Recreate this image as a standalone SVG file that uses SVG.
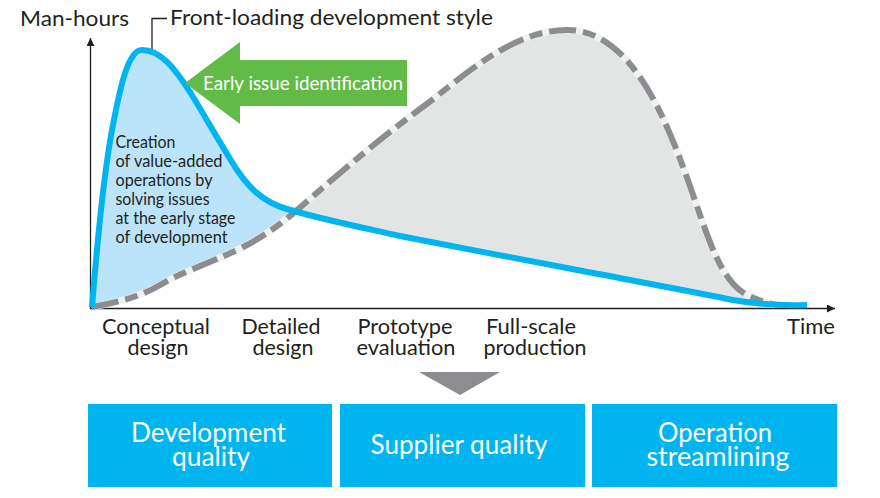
<svg xmlns="http://www.w3.org/2000/svg" width="880" height="498" viewBox="0 0 880 498">
<style>
text{font-family:"Lato","Noto Sans","Liberation Sans",sans-serif;fill:#231f20}
.l{font-size:22px;text-anchor:middle}
.s{font-size:16.500px}
.b{font-size:26px;text-anchor:middle;fill:#fff}
.box{fill:#00b5ef}
</style>
<defs>
<marker id="ah" markerUnits="userSpaceOnUse" markerWidth="10" markerHeight="10" refX="8" refY="4" orient="auto"><path d="M0 0L8 4L0 8z" fill="#231f20"/></marker>
</defs>
<rect width="880" height="498" fill="#fff"/>
<g id="areas">
<path d="M92 307C97 245 103 175 113 125C120 88 128 50 142 50C160 50 174 67 190 92C205 116 218 140 237 170C248 186 262 202 287 209L303 205C280 225 262 238 237 250C205 265 180 273 160 285C140 297 115 303 92 307Z" fill="#bbe3f9"/>
<path d="M287 209L303 205C345 168 385 135 420 109C460 80 510 30 567 30C620 30 655 90 683 167C700 212 712 258 730 280C738 291 748 298 768 304C700 290 640 282 567 268C510 257 460 248 400 236C360 227 320 218 287 209Z" fill="#e3e5e5"/>
</g>
<g id="connectors" fill="none">
<path d="M90.500 309V38" stroke="#231f20" stroke-width="1.300" marker-end="url(#ah)"/>
<path d="M90 308.500H835" stroke="#231f20" stroke-width="1.300" marker-end="url(#ah)"/>
<path d="M152 52V18.500H167" stroke="#231f20" stroke-width="1.300"/>
<path id="grayhalo" d="M92 307C115 303 140 297 160 285C180 273 205 265 237 250C262 238 280 225 303 205C345 168 385 135 420 109C460 80 510 30 567 30C620 30 655 90 683 167C700 212 712 258 730 280C738 291 748 298 775 305" stroke="#f0f1f1" stroke-width="7"/>
<path id="gray" d="M92 307C115 303 140 297 160 285C180 273 205 265 237 250C262 238 280 225 303 205C345 168 385 135 420 109C460 80 510 30 567 30C620 30 655 90 683 167C700 212 712 258 730 280C738 291 748 298 775 305" stroke="#8c8d90" stroke-width="6" stroke-dasharray="27 7 13 7"/>
<path id="blue" d="M92 307C97 245 103 175 113 125C120 88 128 50 142 50C160 50 174 67 190 92C205 116 218 140 237 170C248 186 262 202 287 209C320 219 360 227 400 236C460 248 510 257 567 268C640 282 700 293 733 300C755 304 775 306 807 305" stroke="#00b5ef" stroke-width="6"/>
</g>
<g id="green-arrow">
<path d="M185 83L240 42V60H407V106H240V124Z" fill="#62bb46"/>
<text x="203" y="90" style="font-size:19px;fill:#fff" textLength="200" lengthAdjust="spacingAndGlyphs">Early issue identification</text>
</g>
<g id="axis-labels">
<text x="20" y="26" style="font-size:22px" textLength="109" lengthAdjust="spacingAndGlyphs">Man-hours</text>
<text x="170" y="25" style="font-size:22px" textLength="323" lengthAdjust="spacingAndGlyphs">Front-loading development style</text>
<text x="787" y="334" style="font-size:22px" textLength="48" lengthAdjust="spacingAndGlyphs">Time</text>
</g>
<g id="note">
<text class="s" x="115.500" y="148" textLength="60" lengthAdjust="spacingAndGlyphs">Creation</text>
<text class="s" x="115.500" y="167" textLength="107" lengthAdjust="spacingAndGlyphs">of value-added</text>
<text class="s" x="115.500" y="186" textLength="97" lengthAdjust="spacingAndGlyphs">operations by</text>
<text class="s" x="115.500" y="205" textLength="94" lengthAdjust="spacingAndGlyphs">solving issues</text>
<text class="s" x="115.500" y="224" textLength="120" lengthAdjust="spacingAndGlyphs">at the early stage</text>
<text class="s" x="115.500" y="243" textLength="112" lengthAdjust="spacingAndGlyphs">of development</text>
</g>
<g id="phase-conceptual">
<text class="l" x="156" y="334" textLength="108" lengthAdjust="spacingAndGlyphs">Conceptual</text>
<text class="l" x="158" y="355" textLength="61" lengthAdjust="spacingAndGlyphs">design</text>
</g>
<g id="phase-detailed">
<text class="l" x="281" y="334" textLength="79" lengthAdjust="spacingAndGlyphs">Detailed</text>
<text class="l" x="283" y="355" textLength="61" lengthAdjust="spacingAndGlyphs">design</text>
</g>
<g id="phase-prototype">
<text class="l" x="405" y="334" textLength="95" lengthAdjust="spacingAndGlyphs">Prototype</text>
<text class="l" x="406" y="355" textLength="99" lengthAdjust="spacingAndGlyphs">evaluation</text>
</g>
<g id="phase-fullscale">
<text class="l" x="531" y="334" textLength="90" lengthAdjust="spacingAndGlyphs">Full-scale</text>
<text class="l" x="535" y="355" textLength="103" lengthAdjust="spacingAndGlyphs">production</text>
</g>
<path id="down-arrow" d="M419 372H500L460 395Z" fill="#8c8d90"/>
<g id="box-development">
<rect class="box" x="88" y="404" width="244" height="83"/>
<text class="b" x="208.500" y="442" textLength="155" lengthAdjust="spacingAndGlyphs">Development</text>
<text class="b" x="211" y="466" textLength="78" lengthAdjust="spacingAndGlyphs">quality</text>
</g>
<g id="box-supplier">
<rect class="box" x="340" y="404" width="245" height="83"/>
<text class="b" x="459" y="454" textLength="177" lengthAdjust="spacingAndGlyphs">Supplier quality</text>
</g>
<g id="box-operation">
<rect class="box" x="592" y="404" width="245" height="83"/>
<text class="b" x="715" y="442" textLength="114" lengthAdjust="spacingAndGlyphs">Operation</text>
<text class="b" x="718" y="466" textLength="143" lengthAdjust="spacingAndGlyphs">streamlining</text>
</g>
</svg>
